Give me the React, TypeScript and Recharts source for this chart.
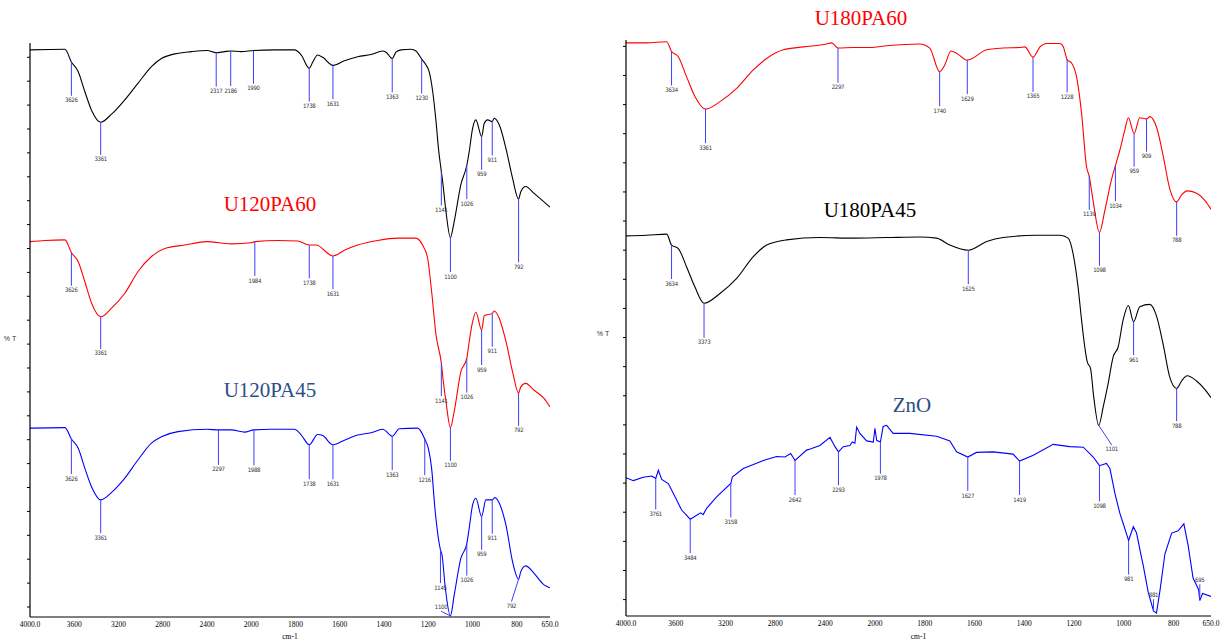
import { Line, LineChart, ReferenceLine, XAxis, YAxis } from "recharts";

// Wavenumber axis is split: 400 cm-1 per division above 2000, 200 cm-1 below
const toU = (wn: number) => (wn >= 2000 ? (4000 - wn) / 400 : 5 + (2000 - wn) / 200);

const xTickWn = [4000, 3600, 3200, 2800, 2400, 2000, 1800, 1600, 1400, 1200, 1000, 800, 650];
const xTickLabels = ["4000.0", "3600", "3200", "2800", "2400", "2000", "1800", "1600", "1400", "1200", "1000", "800", "650.0"];

type Pt = [number, number];
type Peak = [number, number, number?];

// ---- left panel ----
const leftBlack: Pt[] = [
  [4000, 98.8], [3684, 98.9], [3626, 96.7], [3564, 95.0], [3504, 91.5], [3444, 88.3], [3361, 86.2],
  [3263, 87.6], [3143, 90.1], [3023, 93.0], [2902, 95.9], [2812, 97.3], [2692, 98.1], [2541, 98.5],
  [2400, 98.7], [2317, 98.3], [2241, 98.5], [2186, 98.6], [2090, 98.5], [1990, 98.7], [1895, 98.8],
  [1805, 98.8], [1774, 97.9], [1738, 95.6], [1722, 96.7], [1700, 97.9], [1677, 97.5], [1631, 96.1],
  [1579, 96.9], [1519, 97.6], [1459, 98.0], [1406, 98.6], [1391, 98.4], [1363, 97.3], [1346, 98.4],
  [1323, 98.8], [1278, 98.9], [1256, 98.6], [1230, 97.2], [1211, 96.2], [1196, 95.0], [1180, 91.5],
  [1165, 86.3], [1154, 81.6], [1141, 77.6], [1135, 75.8], [1120, 70.6], [1100, 66.1], [1083, 68.9],
  [1053, 75.3], [1026, 78.7], [1015, 81.1], [1000, 85.1], [985, 86.6], [959, 83.7], [947, 86.0],
  [932, 86.6], [911, 86.3], [902, 86.9], [879, 85.7], [849, 81.6], [819, 76.4], [792, 72.8],
  [782, 74.1], [760, 75.0], [722, 73.8], [650, 71.4],
];
const leftBlackPeaks: Peak[] = [
  [3626, 90.8], [3361, 80.5], [2317, 92.4], [2186, 92.5], [1990, 92.9], [1738, 89.8], [1631, 90.2],
  [1363, 91.4], [1230, 91.2], [1141, 71.7], [1100, 60.1], [1026, 72.8], [959, 77.9], [911, 80.4], [792, 61.8],
];

const u120pa60: Pt[] = [
  [4000, 65.4], [3865, 65.6], [3684, 65.7], [3626, 63.5], [3564, 61.9], [3504, 58.4], [3444, 54.7],
  [3361, 52.3], [3263, 53.8], [3143, 56.4], [3023, 60.2], [2902, 62.8], [2782, 64.2], [2602, 64.8],
  [2400, 65.4], [2180, 65.0], [2000, 65.2], [1984, 65.4], [1880, 65.6], [1790, 65.5], [1738, 64.8],
  [1707, 64.8], [1631, 62.9], [1579, 63.9], [1519, 64.8], [1429, 65.6], [1338, 66.0], [1256, 66.0],
  [1226, 64.8], [1203, 62.5], [1185, 56.7], [1165, 49.1], [1141, 44.2], [1132, 41.0], [1120, 37.5],
  [1100, 33.0], [1083, 35.8], [1053, 42.7], [1026, 45.1], [1015, 48.0], [1000, 51.4], [985, 53.1],
  [959, 50.0], [947, 52.5], [911, 52.9], [902, 53.3], [879, 52.0], [849, 48.0], [819, 42.7],
  [792, 39.0], [782, 40.1], [760, 40.7], [722, 39.5], [677, 38.1], [650, 36.6],
];
const u120pa60Peaks: Peak[] = [
  [3626, 57.7], [3361, 46.7], [1984, 59.4], [1738, 59.0], [1631, 57.1], [1141, 38.5], [1100, 27.2],
  [1026, 39.1], [959, 43.9], [911, 47.1], [792, 33.3],
];

const u120pa45: Pt[] = [
  [4000, 32.9], [3684, 33.0], [3626, 31.0], [3564, 29.4], [3504, 25.9], [3444, 22.7], [3361, 20.4],
  [3263, 21.7], [3143, 24.2], [3023, 27.4], [2902, 30.3], [2812, 31.4], [2662, 32.3], [2400, 32.7],
  [2297, 32.6], [2180, 32.6], [2060, 32.2], [1988, 32.6], [1910, 32.7], [1805, 32.7], [1774, 31.7],
  [1738, 30.0], [1700, 31.8], [1677, 31.6], [1631, 30.0], [1579, 30.8], [1519, 31.7], [1459, 32.1],
  [1406, 32.7], [1363, 31.5], [1331, 32.8], [1248, 32.9], [1216, 31.0], [1200, 29.4], [1185, 25.9],
  [1170, 18.9], [1145, 11.7], [1138, 10.8], [1123, 5.0], [1100, 0.2], [1083, 3.8], [1053, 10.2],
  [1026, 12.8], [1015, 15.5], [1000, 19.5], [985, 20.7], [959, 17.5], [940, 20.4], [911, 20.4],
  [899, 20.8], [879, 19.8], [849, 16.0], [819, 9.6], [792, 6.6], [782, 7.9], [760, 8.9], [722, 7.6],
  [677, 5.6], [650, 5.1],
];
const u120pa45Peaks: Peak[] = [
  [3626, 24.9], [3361, 14.6], [2297, 26.5], [1988, 26.4], [1738, 24.0], [1631, 24.0], [1363, 25.6],
  [1216, 24.7], [1145, 5.9], [1100, 1.0, 1142], [1026, 7.2], [959, 11.7], [911, 14.5], [792, 2.7, 824],
];

// ---- right panel ----
const u180pa60: Pt[] = [
  [4000, 99.5], [3834, 99.5], [3673, 99.7], [3634, 98.0], [3580, 97.1], [3513, 93.6], [3446, 90.2],
  [3361, 88.0], [3245, 89.3], [3111, 91.6], [2977, 94.8], [2870, 96.8], [2736, 98.3], [2576, 98.8],
  [2388, 99.3], [2348, 99.5], [2297, 98.6], [2174, 98.7], [2041, 98.7], [1953, 99.0], [1820, 99.3],
  [1780, 98.6], [1740, 94.5], [1719, 95.7], [1695, 98.1], [1672, 97.7], [1629, 96.5], [1551, 98.3],
  [1485, 98.6], [1418, 98.7], [1398, 98.8], [1365, 97.0], [1337, 98.8], [1311, 99.4], [1257, 99.4],
  [1243, 98.8], [1228, 96.6], [1210, 96.0], [1190, 93.6], [1170, 87.3], [1150, 78.0], [1139, 76.3],
  [1124, 72.2], [1098, 66.6], [1076, 70.5], [1050, 75.7], [1034, 78.2], [1016, 80.9], [996, 84.4],
  [982, 86.5], [959, 83.8], [936, 86.5], [909, 86.3], [896, 86.7], [869, 84.9], [842, 79.9],
  [816, 74.2], [788, 71.9], [768, 73.1], [746, 73.8], [708, 73.4], [674, 72.1], [650, 70.6],
];
const u180pa60Peaks: Peak[] = [
  [3634, 92.1], [3361, 82.1], [2297, 92.6], [1740, 88.5], [1629, 90.6], [1365, 91.0], [1228, 90.9],
  [1139, 70.5], [1098, 60.8], [1034, 72.0], [959, 78.0], [909, 80.6], [788, 66.0],
];

const u180pa45: Pt[] = [
  [4000, 66.0], [3834, 66.1], [3673, 66.3], [3634, 64.4], [3580, 63.8], [3513, 60.6], [3446, 57.1],
  [3373, 54.3], [3245, 56.0], [3111, 58.6], [2977, 62.4], [2870, 64.4], [2710, 65.3], [2442, 65.7],
  [2174, 65.6], [1953, 65.7], [1820, 65.8], [1753, 65.6], [1699, 64.4], [1625, 63.5], [1551, 65.0],
  [1485, 65.7], [1351, 66.1], [1257, 66.1], [1224, 65.6], [1204, 62.9], [1184, 57.1], [1170, 51.4],
  [1157, 46.7], [1147, 44.1], [1134, 43.0], [1121, 38.0], [1101, 33.1], [1083, 36.3], [1063, 40.4],
  [1043, 45.0], [1023, 46.7], [1003, 51.4], [982, 53.9], [961, 51.1], [936, 53.7], [896, 54.1],
  [869, 52.1], [842, 47.1], [816, 41.5], [788, 39.5], [768, 40.8], [746, 41.7], [708, 40.8],
  [674, 39.3], [650, 37.9],
];
const u180pa45Peaks: Peak[] = [
  [3634, 58.5], [3373, 48.3], [1625, 57.6], [1101, 29.7, 1049], [961, 45.3], [788, 33.8],
];

const zno: Pt[] = [
  [4000, 24.0], [3941, 23.5], [3861, 24.1], [3794, 24.3], [3761, 23.9], [3740, 25.3], [3713, 23.7],
  [3660, 23.0], [3606, 20.7], [3553, 18.4], [3484, 16.8], [3432, 17.5], [3400, 17.9], [3380, 17.6],
  [3352, 18.7], [3272, 20.7], [3158, 23.0], [3146, 24.1], [3058, 25.6], [2951, 26.5], [2897, 27.0],
  [2790, 27.7], [2723, 27.6], [2677, 28.2], [2642, 27.0], [2549, 28.8], [2520, 29.0], [2442, 29.6],
  [2361, 31.0], [2321, 29.4], [2293, 28.5], [2254, 29.4], [2201, 29.6], [2182, 30.2], [2161, 30.0],
  [2147, 32.8], [2121, 31.7], [2067, 30.4], [2013, 30.2], [2000, 32.6], [1993, 30.5], [1978, 30.2],
  [1967, 32.9], [1953, 33.1], [1927, 31.7], [1860, 31.7], [1752, 31.2], [1699, 30.4], [1672, 28.5],
  [1627, 27.6], [1592, 28.4], [1525, 28.5], [1445, 28.1], [1419, 26.9], [1364, 27.9], [1284, 29.8],
  [1217, 29.4], [1163, 29.3], [1123, 27.6], [1098, 26.1], [1070, 26.5], [1056, 25.6], [1036, 21.3],
  [1016, 17.8], [1003, 16.1], [981, 13.1], [962, 15.5], [949, 14.4], [935, 11.4], [922, 8.7],
  [902, 4.1], [881, 0.9], [869, 0.5], [855, 4.4], [835, 10.8], [808, 14.4], [782, 14.8], [759, 16.0],
  [742, 12.3], [722, 6.6], [700, 4.6], [695, 2.7], [684, 3.9], [650, 3.4],
];
const znoPeaks: Peak[] = [
  [3761, 18.5], [3484, 10.9], [3158, 17.1], [2642, 21.0], [2293, 22.7], [1978, 24.7], [1627, 21.7],
  [1419, 21.0], [1098, 19.9], [981, 7.2], [881, 2.9], [695, 5.5],
];

interface Series {
  name: string;
  data: Pt[];
  peaks: Peak[];
  color: string;
  jagged?: boolean;
}

const leftSeries: Series[] = [
  { name: "top", data: leftBlack, peaks: leftBlackPeaks, color: "#000000" },
  { name: "U120PA60", data: u120pa60, peaks: u120pa60Peaks, color: "#ff0000" },
  { name: "U120PA45", data: u120pa45, peaks: u120pa45Peaks, color: "#0000ff" },
];
const rightSeries: Series[] = [
  { name: "U180PA60", data: u180pa60, peaks: u180pa60Peaks, color: "#ff0000" },
  { name: "U180PA45", data: u180pa45, peaks: u180pa45Peaks, color: "#000000" },
  { name: "ZnO", data: zno, peaks: znoPeaks, color: "#0000ff", jagged: true },
];

const xTicksU = xTickWn.map(toU);
const tickLabel = (u: number) => {
  const i = xTicksU.findIndex((t) => Math.abs(t - u) < 1e-6);
  return i >= 0 ? xTickLabels[i] : "";
};

const peakFont = "'Liberation Sans Narrow', 'DejaVu Sans Condensed', 'Liberation Sans', sans-serif";
const serif = "'Liberation Serif', 'Times New Roman', serif";

function peakMarks(s: Series) {
  return s.peaks.map(([wn, endT, endWn]) => {
    const hit = s.data.find((p) => p[0] === wn);
    const t = hit ? hit[1] : endT;
    const ew = endWn ?? wn;
    const below = endT < t;
    const right = ew < wn;
    const left = ew > wn;
    return (
      <ReferenceLine
        key={`${s.name}-${wn}`}
        segment={[
          { x: toU(wn), y: t },
          { x: toU(ew), y: endT },
        ]}
        stroke="#3d3dff"
        strokeWidth={1}
        label={(props: any) => {
          const vb = props.viewBox || { x: 0, y: 0, width: 0, height: 0 };
          const x = right ? vb.x + vb.width : left ? vb.x : vb.x + vb.width / 2;
          const y = below ? vb.y + vb.height + 6.5 : vb.y - 2;
          return (
            <text x={x} y={y} textAnchor="middle" fontSize={6} letterSpacing={-0.3} fill="#333" fontFamily={peakFont}>
              {wn}
            </text>
          );
        }}
      />
    );
  });
}

function Panel({
  series,
  width,
  top,
  right,
  axisHeight,
  yTicks,
}: {
  series: Series[];
  width: number;
  top: number;
  right: number;
  axisHeight: number;
  yTicks: number[];
}) {
  return (
    <LineChart width={width} height={642} margin={{ top, right, bottom: 0, left: 29 }}>
      <XAxis
        type="number"
        dataKey="u"
        domain={[0, 11.75]}
        ticks={xTicksU}
        tickFormatter={tickLabel}
        interval={0}
        allowDataOverflow
        height={axisHeight}
        tickLine={false}
        tickSize={3}
        tickMargin={2}
        axisLine={{ stroke: "#000", strokeWidth: 1.2 }}
        tick={{ fontSize: 7.5, fill: "#000", fontFamily: serif }}
        label={{ value: "cm-1", position: "insideBottom", offset: 3, fontSize: 7.5, fill: "#000", fontFamily: serif }}
      />
      <YAxis
        type="number"
        domain={[0, 100]}
        ticks={yTicks}
        width={1}
        tick={() => <g />}
        tickSize={3}
        tickLine={{ stroke: "#000" }}
        axisLine={{ stroke: "#000", strokeWidth: 1.2 }}
        allowDataOverflow
      />
      {series.map((s) => (
        <Line
          key={s.name}
          data={s.data.map(([wn, t]) => ({ u: toU(wn), t }))}
          dataKey="t"
          type={s.jagged ? "linear" : "monotone"}
          stroke={s.color}
          strokeWidth={1.1}
          dot={false}
          activeDot={false}
          isAnimationActive={false}
        />
      ))}
      {series.flatMap((s) => peakMarks(s))}
    </LineChart>
  );
}

const leftYTicks = Array.from({ length: 24 }, (_, k) => 1.74 + 4.164 * k);
const rightYTicks = Array.from({ length: 20 }, (_, k) => 2.85 + 5.055 * k);

function Tag({ text, x, y, color }: { text: string; x: number; y: number; color: string }) {
  return (
    <div
      style={{
        position: "absolute",
        left: x,
        top: y,
        transform: "translate(-50%, -50%)",
        fontFamily: serif,
        fontSize: 21,
        lineHeight: 1,
        color,
        whiteSpace: "nowrap",
      }}
    >
      {text}
    </div>
  );
}

function Small({ text, x, y }: { text: string; x: number; y: number }) {
  return (
    <div
      style={{
        position: "absolute",
        left: x,
        top: y,
        transform: "translate(-50%, -50%)",
        fontFamily: "'Liberation Sans', sans-serif",
        fontSize: 7,
        lineHeight: 1,
        color: "#333",
        whiteSpace: "nowrap",
      }}
    >
      {text}
    </div>
  );
}

export default function App() {
  return (
    <div style={{ position: "absolute", left: 0, top: 0, width: 1225, height: 642, background: "#fff", overflow: "hidden" }}>
      <div style={{ position: "absolute", left: 0, top: 0 }}>
        <Panel series={leftSeries} width={560} top={43} right={10} axisHeight={25} yTicks={leftYTicks} />
      </div>
      <div style={{ position: "absolute", left: 596, top: 0 }}>
        <Panel series={rightSeries} width={629} top={40} right={14} axisHeight={26} yTicks={rightYTicks} />
      </div>
      <Tag text="U120PA60" x={270} y={204} color="#ff0000" />
      <Tag text="U120PA45" x={270} y={390} color="#2b4f86" />
      <Tag text="U180PA60" x={861} y={18} color="#ff0000" />
      <Tag text="U180PA45" x={870} y={210} color="#000000" />
      <Tag text="ZnO" x={912} y={405} color="#2b4f86" />
      <Small text="% T" x={10} y={338} />
      <Small text="% T" x={603} y={333} />
    </div>
  );
}
